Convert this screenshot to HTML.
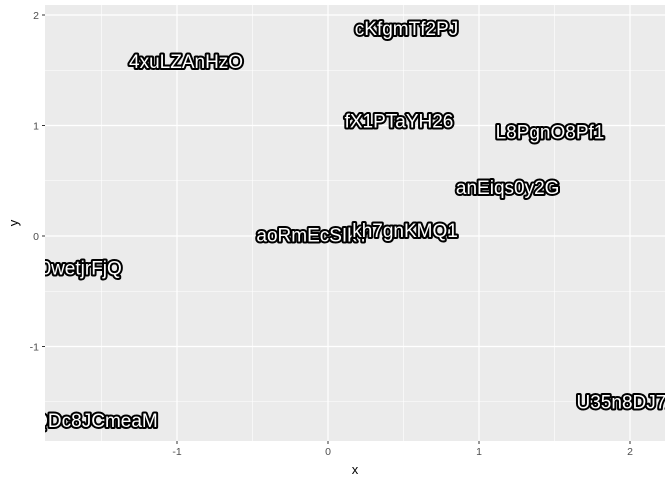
<!DOCTYPE html>
<html><head><meta charset="utf-8"><style>
body{margin:0;background:#fff;}
svg{display:block;font-family:"Liberation Sans",Arial,sans-serif;}
</style></head><body>
<svg id="chart" width="672" height="480">
<defs><clipPath id="pc"><rect x="45" y="5" width="620" height="436"/></clipPath></defs>
<rect x="45" y="5" width="620" height="436" fill="#ebebeb"/>
<g id="grid"></g>
<g id="labels" clip-path="url(#pc)"></g>
<g id="axes"></g>
<text x="355" y="474" font-size="13" text-anchor="middle" fill="#000">x</text>
<text x="18" y="223" font-size="13" text-anchor="middle" fill="#000" transform="rotate(-90 18 223)">y</text>
</svg>
<script>
const names=["cKfgmTf2PJ","4xuLZAnHzO","fX1PTaYH26","L8PgnO8Pf1","anEiqs0y2G","aoRmEcSIkY","kh7gnKMQ1","D0wetjrFjQ","QDc8JCmeaM","U35n8DJ7xR"];
const xs=[0.52,-0.94,0.47,1.47,1.19,-0.10,0.51,-1.68,-1.54,2.02];
const ys=[1.88,1.58,1.04,0.94,0.44,0.01,0.05,-0.29,-1.67,-1.50];
const xTicks=[-1,0,1,2];
const yTicks=[-1,0,1,2];
const NS="http://www.w3.org/2000/svg";
const X=v=>328+v*151, Y=v=>236-v*110.5;
const L=45,R=665,T=5,B=441;
const grid=document.getElementById('grid'),axes=document.getElementById('axes'),lab=document.getElementById('labels');
function ln(p,x1,y1,x2,y2,c,w){const e=document.createElementNS(NS,'line');e.setAttribute('x1',x1);e.setAttribute('y1',y1);e.setAttribute('x2',x2);e.setAttribute('y2',y2);e.setAttribute('stroke',c);e.setAttribute('stroke-width',w);p.appendChild(e);return e;}
for(let v=-2;v<=2.5;v+=0.5){const px=X(v);if(px>L&&px<R){const e=ln(grid,px,T,px,B,'#fff',Number.isInteger(v)?1.2:0.6);

}}
for(let v=-2;v<=2.5;v+=0.5){const py=Y(v);if(py>T&&py<B){const e=ln(grid,L,py,R,py,'#fff',Number.isInteger(v)?1.2:0.6);

}}
xTicks.forEach(v=>{const px=X(v);ln(axes,px,B,px,B+3,'#333',1);const t=document.createElementNS(NS,'text');t.setAttribute('x',px);t.setAttribute('y',B+14);t.setAttribute('font-size','10.5');t.setAttribute('text-anchor','middle');t.setAttribute('fill','#4d4d4d');t.textContent=v;


axes.appendChild(t);});
yTicks.forEach(v=>{const py=Y(v);ln(axes,L-3,py,L,py,'#333',1);const t=document.createElementNS(NS,'text');t.setAttribute('x',L-6);t.setAttribute('y',py+4);t.setAttribute('font-size','10.5');t.setAttribute('text-anchor','end');t.setAttribute('fill','#4d4d4d');t.textContent=v;


axes.appendChild(t);});
names.forEach((n,i)=>{const t=document.createElementNS(NS,'text');t.setAttribute('x',X(xs[i]));t.setAttribute('y',Y(ys[i])+6.5);t.setAttribute('font-size','19');t.setAttribute('text-anchor','middle');t.setAttribute('fill','#fff');t.setAttribute('stroke','#000');t.setAttribute('stroke-width','4');t.setAttribute('stroke-linejoin','round');t.setAttribute('paint-order','stroke');t.textContent=n;


lab.appendChild(t);});
</script>
</body></html>
